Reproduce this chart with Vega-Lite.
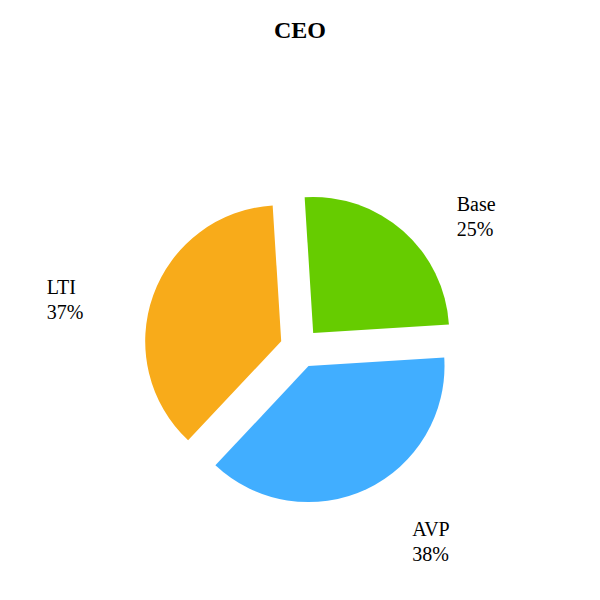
{
  "$schema": "https://vega.github.io/schema/vega-lite/v6.json",
  "autosize": {"type": "none"},
  "width": 600,
  "height": 504,
  "padding": {"top": 96, "left": 0, "right": 0, "bottom": 0},
  "background": "white",
  "title": {"text": "CEO", "font": "Liberation Serif", "fontSize": 24, "fontWeight": "bold", "color": "black", "anchor": "middle", "offset": 53.5},
  "data": {"values": [
    {"category": "Base", "value": 25, "label": ["Base", "25%"]},
    {"category": "AVP", "value": 38, "label": ["AVP", "38%"]},
    {"category": "LTI", "value": 37, "label": ["LTI", "37%"]}
  ]},
  "transform": [
    {"stack": "value", "groupby": [], "sort": [{"field": "category", "order": "descending"}], "as": ["v0", "v1"]},
    {"calculate": "(datum.v0 + datum.v1) / 2", "as": "mid"}
  ],
  "encoding": {
    "theta": {"field": "v0", "type": "quantitative", "scale": {"domain": [0, 100], "range": [-2.3876, 3.8956]}},
    "theta2": {"field": "v1"},
    "color": {"field": "category", "type": "nominal", "scale": {"domain": ["Base", "AVP", "LTI"], "range": ["#66CC00", "#41AEFF", "#F8AB1A"]}, "legend": null}
  },
  "layer": [
    {"transform": [{"filter": "datum.category === 'Base'"}], "layer": [
      {"mark": {"type": "arc", "radius": 136, "xOffset": 13.2, "yOffset": -15.0}},
      {"mark": {"type": "text", "radius": 220, "align": "left", "baseline": "alphabetic", "font": "Liberation Serif", "fontSize": 20, "lineHeight": 25, "dx": 11.2, "dy": 28.0}, "encoding": {"theta": {"field": "mid", "type": "quantitative"}, "theta2": null, "text": {"field": "label"}, "color": {"value": "black"}}}
    ]},
    {"transform": [{"filter": "datum.category === 'AVP'"}], "layer": [
      {"mark": {"type": "arc", "radius": 136, "xOffset": 8.5, "yOffset": 18.1}},
      {"mark": {"type": "text", "radius": 220, "align": "left", "baseline": "alphabetic", "font": "Liberation Serif", "fontSize": 20, "lineHeight": 25, "dx": 18.6, "dy": -11.4}, "encoding": {"theta": {"field": "mid", "type": "quantitative"}, "theta2": null, "text": {"field": "label"}, "color": {"value": "black"}}}
    ]},
    {"transform": [{"filter": "datum.category === 'LTI'"}], "layer": [
      {"mark": {"type": "arc", "radius": 136, "xOffset": -18.8, "yOffset": -6.8}},
      {"mark": {"type": "text", "radius": 220, "align": "left", "baseline": "alphabetic", "font": "Liberation Serif", "fontSize": 20, "lineHeight": 25, "dx": -46.3, "dy": 20.5}, "encoding": {"theta": {"field": "mid", "type": "quantitative"}, "theta2": null, "text": {"field": "label"}, "color": {"value": "black"}}}
    ]}
  ]
}
